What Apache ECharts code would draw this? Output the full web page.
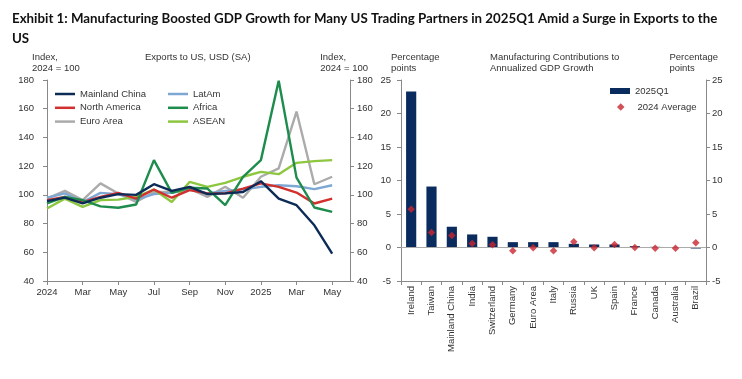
<!DOCTYPE html>
<html>
<head>
<meta charset="utf-8">
<script src="https://cdn.jsdelivr.net/npm/echarts@6/dist/echarts.min.js"></script>
<style>
html,body{margin:0;padding:0;background:#fff;}
#chart{width:742px;height:379px;}
</style>
</head>
<body>
<div id="chart"></div>
<script>
// ---- Left panel data: Exports to US, index 2024 = 100 ----
const months = ['2024','Feb','Mar','Apr','May','Jun','Jul','Aug','Sep','Oct','Nov','Dec','2025','Feb','Mar','Apr','May',''];
const mainlandChina = [95.6, 98.1, 94, 98, 100.5, 100, 107.4, 102.8, 105.6, 100.5, 101, 102, 109.5, 97.4, 92.8, 78.8, 59];
const northAmerica  = [96.3, 98.6, 95, 98.6, 101.4, 97.4, 103.7, 98, 103.3, 101, 101, 104.4, 108, 105.6, 101.6, 94, 97.4];
const euroArea      = [97.4, 102.8, 96.3, 108, 101, 95, 102, 102, 104.4, 98.6, 105.6, 98, 112.6, 118.4, 158, 107.4, 112.6];
const latAm         = [98, 101, 95, 101.4, 100.5, 96.7, 100.5, 101.4, 103.7, 101, 102.8, 103.7, 105.6, 106.7, 106, 104, 106.7];
const africa        = [94, 98.6, 96.3, 92, 91, 93.3, 124.2, 101.4, 105, 104.4, 92.8, 112.6, 124.2, 179.5, 112, 91.2, 88.1];
const asean         = [90.5, 97.4, 91.6, 96.3, 96.7, 98.6, 103.7, 95, 109, 105.6, 108.4, 112.6, 116, 114.4, 122.3, 123.5, 124.2];

// ---- Right panel data: Manufacturing contributions to annualized GDP growth ----
const countries = ['Ireland','Taiwan','Mainland China','India','Switzerland','Germany','Euro Area','Italy','Russia','UK','Spain','France','Canada','Australia','Brazil'];
const q1_2025   = [23.3, 9.1, 3.1, 1.95, 1.6, 0.8, 0.8, 0.8, 0.55, 0.45, 0.45, 0.2, 0.1, 0.03, -0.15];
const avg2024   = [5.7, 2.25, 1.8, 0.6, 0.4, -0.5, -0.05, -0.5, 0.85, -0.05, 0.45, 0, -0.1, -0.1, 0.7];

const FONT = 'Liberation Sans, Arial, sans-serif';
const AX = '#888';
const TXT = '#333';

const chart = echarts.init(document.getElementById('chart'), null, {renderer:'canvas'});

function lineSeries(name, data, color) {
  return {name, type:'line', data, xAxisIndex:0, yAxisIndex:0, symbol:'none',
    lineStyle:{color, width:2.4}, itemStyle:{color}, z: 3};
}

function yAx(grid, min, max, interval, position, margin) {
  return {gridIndex:grid, type:'value', min, max, interval, position,
    axisLine:{show:true, lineStyle:{color:AX, width:1}},
    axisTick:{show:true, lineStyle:{color:AX}, length:4},
    splitLine:{show:false},
    axisLabel:{color:TXT, fontFamily:FONT, fontSize:9.5, margin}};
}

const subStyle = {font:'9.5px '+FONT, fill:TXT, lineHeight:11};

const option = {
  backgroundColor:'#fff',
  animation:false,
  textStyle:{fontFamily:FONT},
  title:{
    text:'Exhibit 1: Manufacturing Boosted GDP Growth for Many US Trading Partners in 2025Q1 Amid a Surge in Exports to the\nUS',
    left:7, top:4,
    textStyle:{fontFamily:'Lato, Liberation Sans, Arial, sans-serif', fontWeight:'bold', fontSize:13.3, lineHeight:20, color:'#111'}
  },
  graphic:[
    {type:'text', left:32, top:52, style:Object.assign({text:'Index,\n2024 = 100'}, subStyle)},
    {type:'text', left:145, top:52, style:Object.assign({text:'Exports to US, USD (SA)'}, subStyle)},
    {type:'text', right:374, top:52, style:Object.assign({text:'Index,\n2024 = 100', align:'right'}, subStyle)},
    {type:'text', left:391, top:52, style:Object.assign({text:'Percentage\npoints'}, subStyle)},
    {type:'text', left:490, top:52, style:Object.assign({text:'Manufacturing Contributions to\nAnnualized GDP Growth', align:'center'}, subStyle)},
    {type:'text', right:24, top:52, style:Object.assign({text:'Percentage\npoints', align:'right'}, subStyle)}
  ],
  legend:[
    {left:50, top:84, orient:'vertical', icon:'rect', itemWidth:20, itemHeight:2.5, itemGap:3.8,
     data:['Mainland China','North America','Euro Area'], textStyle:{fontSize:9.5, color:TXT, fontFamily:FONT}},
    {left:163, top:84, orient:'vertical', icon:'rect', itemWidth:20, itemHeight:2.5, itemGap:3.8,
     data:['LatAm','Africa','ASEAN'], textStyle:{fontSize:9.5, color:TXT, fontFamily:FONT}},
    {left:605, top:81, orient:'vertical', itemWidth:20, itemHeight:6,
     data:[{name:'2025Q1', icon:'rect'}],
     textStyle:{fontSize:9.5, color:TXT, fontFamily:FONT}},
    {left:612, top:97, orient:'vertical', itemWidth:7.5, itemHeight:7.5,
     data:[{name:'2024 Average', icon:'diamond'}],
     textStyle:{fontSize:9.5, color:TXT, fontFamily:FONT, padding:[0,0,0,8]}}
  ],
  grid:[
    {left:47, right:392, top:80, bottom:98},
    {left:401, right:36, top:80, bottom:98}
  ],
  xAxis:[
    {gridIndex:0, type:'category', data:months, boundaryGap:false,
      axisLine:{show:true, lineStyle:{color:AX}},
      axisLabel:{color:TXT, fontFamily:FONT, fontSize:9.5, interval:1, margin:6},
      axisTick:{show:true, interval:1, lineStyle:{color:AX}, length:4}},
    {gridIndex:1, type:'category', data:countries, boundaryGap:true,
      axisLine:{show:true, onZero:false, lineStyle:{color:AX}},
      axisLabel:{color:TXT, fontFamily:FONT, rotate:90, interval:0, margin:5, fontSize:9.5},
      axisTick:{show:true, lineStyle:{color:AX}, length:4}}
  ],
  yAxis:[
    yAx(0, 40, 180, 20, 'left', 13),
    yAx(0, 40, 180, 20, 'right', 7),
    yAx(1, -5, 25, 5, 'left', 10),
    yAx(1, -5, 25, 5, 'right', 6)
  ],
  series:[
    lineSeries('Euro Area', euroArea, '#ababab'),
    lineSeries('LatAm', latAm, '#7fa7d4'),
    lineSeries('ASEAN', asean, '#8dc63f'),
    lineSeries('North America', northAmerica, '#d1302f'),
    lineSeries('Africa', africa, '#1e8c4c'),
    lineSeries('Mainland China', mainlandChina, '#0c2c57'),
    {name:'2025Q1', type:'bar', xAxisIndex:1, yAxisIndex:2, data:q1_2025, barWidth:'50%',
     itemStyle:{color:'#0a2b5e'},
     markLine:{silent:true, symbol:'none', label:{show:false}, lineStyle:{color:'#aaa', type:'solid', width:1},
       data:[{yAxis:0}]}},
    {name:'2024 Average', type:'scatter', xAxisIndex:1, yAxisIndex:2, data:avg2024, symbol:'diamond',
     symbolSize:7.5, itemStyle:{color:'#c8262e'}, z:5}
  ]
};
chart.setOption(option);
</script>
</body>
</html>
